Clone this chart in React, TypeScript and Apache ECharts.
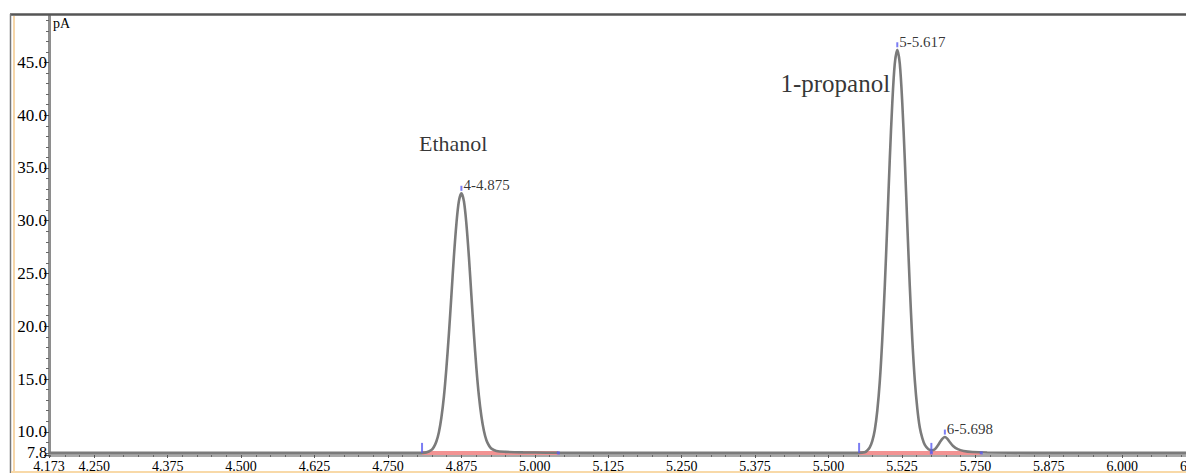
import React, { useEffect, useRef } from "react";
import * as echarts from "echarts";

// Detector signal (retention time in min, signal in pA)
const signalTime = [
  4.173, 4.4, 4.6, 4.8,
  // ethanol peak
  4.8154, 4.8239, 4.8281, 4.8324, 4.8367, 4.8409, 4.8452, 4.8494, 4.8537, 4.858, 4.8622, 4.8665, 4.8707,
  4.875,
  4.8793, 4.8835, 4.8878, 4.892, 4.8963, 4.9006, 4.9048, 4.9091, 4.9133, 4.9176, 4.9219, 4.9261, 4.9346,
  4.95, 4.98, 5.02, 5.2, 5.4, 5.55,
  // 1-propanol peak
  5.5616, 5.5659, 5.5701, 5.5744, 5.5787, 5.5829, 5.5872, 5.5914, 5.5957, 5.6, 5.6042, 5.6085, 5.6127,
  5.617,
  5.6213, 5.6255, 5.6298, 5.634, 5.6383, 5.6426, 5.6468, 5.6511, 5.6553, 5.6596, 5.6639, 5.67, 5.676,
  // small peak
  5.681, 5.686, 5.69, 5.694, 5.698, 5.702, 5.706, 5.712, 5.72, 5.73, 5.745, 5.77, 5.85, 6.0, 6.134,
];
const signalValue = [
  8.0, 8.0, 8.0, 8.0,
  8.05, 8.27, 8.56, 9.08, 9.96, 11.33, 13.32, 15.99, 19.26, 22.92, 26.57, 29.71, 31.84,
  32.6,
  31.84, 29.71, 26.57, 22.92, 19.26, 15.99, 13.4, 11.45, 10.1, 9.2, 8.7, 8.4, 8.18,
  8.1, 8.05, 8.02, 8.0, 8.0, 8.0,
  8.05, 8.23, 8.53, 9.11, 10.17, 11.97, 14.75, 18.7, 23.78, 29.69, 35.79, 41.16, 44.87,
  46.2,
  44.87, 41.16, 35.79, 29.69, 23.78, 18.7, 14.9, 12.2, 10.4, 9.4, 8.75, 8.35, 8.25,
  8.35, 8.7, 9.05, 9.35, 9.5, 9.35, 9.05, 8.65, 8.35, 8.18, 8.08, 8.03, 8.0, 8.0, 8.0,
];

// Integrated peaks
const peakTimes = [4.875, 5.617, 5.698];
const peakHeights = [32.6, 46.2, 9.5];
const peakLabels = ["4-4.875", "5-5.617", "6-5.698"];

// Integration baselines (start, end) and their marker points
const baseStart = [4.808, 5.552, 5.675];
const baseEnd = [5.04, 5.675, 5.76];
const baseLevel = 8.0;

// Compound annotations
const compoundNames = ["Ethanol", "1-propanol"];
const compoundTimes = [4.861, 5.5115];
const compoundValues = [37.3, 43.0];
const compoundSizes = [22, 25];

// Axes
const xMin = 4.173;
const xMax = 6.134;
const xTickValues = [4.173, 4.25, 4.375, 4.5, 4.625, 4.75, 4.875, 5.0, 5.125, 5.25, 5.375, 5.5, 5.625, 5.75, 5.875, 6.0, 6.125];
const xTickLabels = ["4.173", "4.250", "4.375", "4.500", "4.625", "4.750", "4.875", "5.000", "5.125", "5.250", "5.375", "5.500", "5.525", "5.750", "5.875", "6.000", "6.125"];
const yMin = 7.8;
const yMax = 49.4;
const yTickValues = [7.8, 10, 15, 20, 25, 30, 35, 40, 45];
const yTickLabels = ["7.8", "10.0", "15.0", "20.0", "25.0", "30.0", "35.0", "40.0", "45.0"];

const xMinor: number[] = [];
for (let i = 1; i <= 78; i++) {
  const v = Math.round((4.15 + i * 0.025) * 1000) / 1000;
  if (v > xMin && !xTickValues.some((t) => Math.abs(t - v) < 1e-6)) xMinor.push(v);
}
const yMinor: number[] = [];
for (let v = 8; v <= 49; v++) {
  if (v % 5 !== 0) yMinor.push(v);
}

const FONT = "Liberation Serif";

export default function App() {
  const ref = useRef<HTMLDivElement>(null);
  useEffect(() => {
    const chart = echarts.init(ref.current!, null, { renderer: "svg" });
    const signal = signalTime.map((t, i) => [t, signalValue[i]]);
    const baseLines: any[] = [];
    baseStart.forEach((s, i) => {
      baseLines.push([s, baseLevel]);
      baseLines.push([baseEnd[i], baseLevel]);
      baseLines.push(null);
    });
    chart.setOption({
      animation: false,
      backgroundColor: "#ffffff",
      grid: { left: 49, top: 16, right: -15, bottom: 18, containLabel: false, outerBoundsMode: "none" },
      xAxis: [
        {
          type: "value",
          min: xMin,
          max: xMax,
          position: "bottom",
          axisLine: { show: true, onZero: false, lineStyle: { color: "#a9a9a9", width: 3 } },
          axisTick: { show: true, customValues: xTickValues, length: 3, lineStyle: { color: "#555" } },
          axisLabel: {
            customValues: xTickValues,
            formatter: (v: number) => {
              const idx = xTickValues.findIndex((t) => Math.abs(t - v) < 1e-6);
              return idx >= 0 ? xTickLabels[idx] : "";
            },
            fontFamily: FONT,
            fontSize: 14,
            color: "#000",
            margin: 4,
          },
          splitLine: { show: false },
        },
        {
          type: "value",
          min: xMin,
          max: xMax,
          position: "bottom",
          axisLine: { show: false, onZero: false },
          axisTick: { show: true, customValues: xMinor, length: 2, lineStyle: { color: "#666" } },
          axisLabel: { show: false },
          splitLine: { show: false },
        },
      ],
      yAxis: [
        {
          type: "value",
          min: yMin,
          max: yMax,
          position: "left",
          axisLine: { show: true, onZero: false, lineStyle: { color: "#8e8e8e", width: 3 } },
          axisTick: { show: true, customValues: yTickValues, length: 5, lineStyle: { color: "#444" } },
          axisLabel: {
            customValues: yTickValues,
            formatter: (v: number) => {
              const idx = yTickValues.findIndex((t) => Math.abs(t - v) < 1e-6);
              if (idx < 0) return "";
              return idx === 0 ? "{low|" + yTickLabels[idx] + "}" : yTickLabels[idx];
            },
            rich: {
              low: { fontFamily: FONT, fontSize: 16, color: "#000", padding: [0, 0, 6, 0] },
            },
            fontFamily: FONT,
            fontSize: 17,
            color: "#000",
            margin: 2,
          },
          splitLine: { show: false },
        },
        {
          type: "value",
          min: yMin,
          max: yMax,
          position: "left",
          axisLine: { show: false, onZero: false },
          axisTick: { show: true, customValues: yMinor, length: 3, lineStyle: { color: "#666" } },
          axisLabel: { show: false },
          splitLine: { show: false },
        },
      ],
      series: [
        {
          type: "line",
          name: "baseline",
          data: baseLines,
          symbol: "none",
          connectNulls: false,
          lineStyle: { color: "#f29393", width: 4 },
          z: 2,
        },
        {
          type: "line",
          name: "signal",
          data: signal,
          symbol: "none",
          smooth: 0.3,
          lineStyle: { color: "#7b7b7b", width: 2.6 },
          z: 3,
        },
        {
          type: "scatter",
          name: "baseStartMarks",
          data: baseStart.map((t) => [t, baseLevel]),
          symbol: "rect",
          symbolSize: [2, 10],
          symbolOffset: [0, -5],
          itemStyle: { color: "#5a5cf0" },
          z: 4,
        },
        {
          type: "scatter",
          name: "baseEndMarks",
          data: baseEnd.map((t) => [t, baseLevel]),
          symbol: "rect",
          symbolSize: [3, 3],
          itemStyle: { color: "#5a5cf0" },
          z: 4,
        },
        {
          type: "scatter",
          name: "peaks",
          data: peakTimes.map((t, i) => ({ value: [t, peakHeights[i]], name: peakLabels[i] })),
          symbol: "rect",
          symbolSize: [2, 5],
          symbolOffset: [0, -5],
          itemStyle: { color: "#5a5cf0" },
          label: {
            show: true,
            position: "right",
            distance: 1,
            offset: [0, -3],
            formatter: (p: any) => p.name,
            fontFamily: FONT,
            fontSize: 15,
            color: "#000",
          },
          z: 5,
        },
        {
          type: "scatter",
          name: "compounds",
          data: compoundTimes.map((t, i) => ({
            value: [t, compoundValues[i]],
            name: compoundNames[i],
            label: { fontSize: compoundSizes[i] },
          })),
          symbolSize: 1,
          itemStyle: { color: "rgba(0,0,0,0)" },
          label: {
            show: true,
            position: "inside",
            formatter: (p: any) => p.name,
            fontFamily: FONT,
            fontSize: 22,
            color: "#000",
          },
          z: 5,
        },
      ],
      graphic: [
        { type: "line", shape: { x1: 10, y1: 14.5, x2: 1186, y2: 14.5 }, style: { stroke: "#555", lineWidth: 2.5 }, z: 10 },
        { type: "line", shape: { x1: 10.5, y1: 14, x2: 10.5, y2: 473 }, style: { stroke: "#777", lineWidth: 1.5 }, z: 10 },
        { type: "line", shape: { x1: 14, y1: 16, x2: 14, y2: 473 }, style: { stroke: "#f3c88c", lineWidth: 1.5 }, z: 10 },
        { type: "line", shape: { x1: 11, y1: 472, x2: 1186, y2: 472 }, style: { stroke: "#f8d9a8", lineWidth: 2 }, z: 10 },
        { type: "text", left: 53, top: 16, style: { text: "pA", fontFamily: FONT, fontSize: 14, fill: "#000" }, z: 10 },
      ],
    });
    return () => chart.dispose();
  }, []);
  return <div ref={ref} style={{ position: "absolute", left: 0, top: 0, width: 1186, height: 473 }} />;
}
